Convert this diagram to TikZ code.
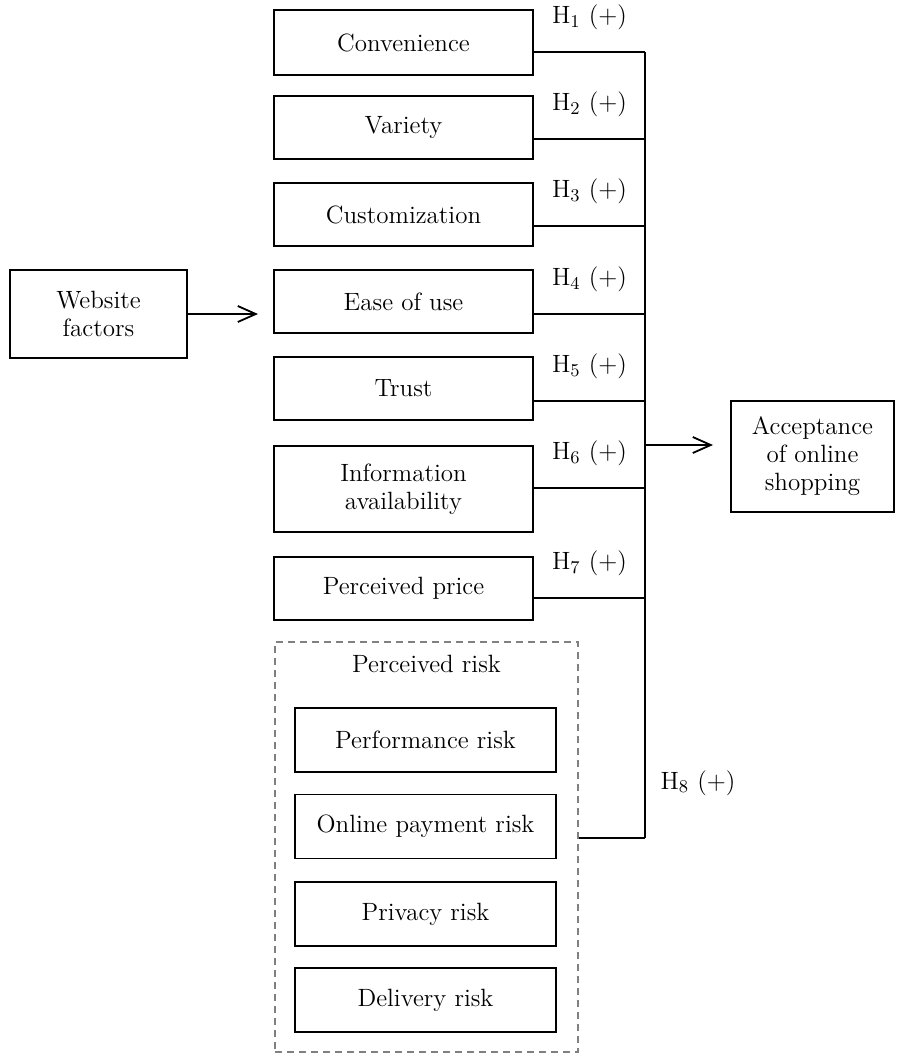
\documentclass[tikz,border=0pt]{standalone}
\usepackage{amsmath}
\usepackage{tikz}
\usetikzlibrary{arrows.meta}
\newdimen\unitsize
\setlength{\unitsize}{0.5pt}

\begin{document}
\begin{tikzpicture}[x=\unitsize,y=-\unitsize,font=\fontsize{12.5}{14}\selectfont]
\tikzset{box/.style={draw, line width=0.9pt, minimum width=129.5pt, minimum height=31.5pt, align=center, inner sep=2pt}}%
\tikzset{riskbox/.style={box, minimum width=130.5pt, minimum height=32pt}}%
\tikzset{edge/.style={line width=0.9pt}}%
\tikzset{hyp/.style={midway, above=10.5pt, inner sep=0pt}}%
\tikzset{>={Straight Barb[length=9pt,width=8pt]}}%
\useasboundingbox (0,0) rectangle (896,1055);
% website factors
\node[box, minimum width=88.5pt, minimum height=44pt] (web) at (98.5,314) {Website\\factors};
% factor boxes
\node[box, minimum height=32.5pt] (conv) at (403.5,42.5) {Convenience};
\node[box] (var) at (403.5,127.5) {Variety};
\node[box] (cust) at (403.5,214.5) {Customization};
\node[box] (ease) at (403.5,301.5) {Ease of use};
\node[box] (trust) at (403.5,388.5) {Trust};
\node[box, minimum height=43pt] (info) at (403.5,489) {Information\\availability};
\node[box] (price) at (403.5,588.5) {Perceived price};
% perceived risk group
\node[draw=gray, line width=0.9pt, dash pattern=on 3.5pt off 2.5pt, minimum width=151.5pt, minimum height=205pt] (risk) at (426.5,847) {};
\node (risktitle) at (426.5,664) {Perceived risk};
\node[riskbox] (perf) at (425.5,740) {Performance risk};
\node[riskbox] (pay) at (425.5,826.5) {Online payment risk};
\node[riskbox] (priv) at (425.5,914) {Privacy risk};
\node[riskbox] (deliv) at (425.5,1000) {Delivery risk};
% outcome
\node[box, minimum width=81.5pt, minimum height=55.5pt] (accept) at (812.5,456.5) {Acceptance\\of online\\shopping};
% connectors
\coordinate (bustop) at (645,52);
\coordinate (busbot) at (645,838);
\coordinate (easein) at (258,314);
\coordinate (accin) at (713,445);
\draw[edge] (bustop) -- (busbot);
\foreach \n/\y/\h in {conv/52/1, var/139/2, cust/226/3, ease/314/4, trust/401/5, info/488/6, price/598/7}
  \draw[edge] (\n.east |- 0,\y) -- (bustop |- 0,\y) node[hyp] {H$_{\h}$ (+)};
\draw[edge] (risk.east |- busbot) -- (busbot);
\node (h8) at (698,783) {H$_8$ (+)};
\draw[edge,->] (web.east) -- (easein);
\draw[edge,->] (bustop |- accin) -- (accin);
\end{tikzpicture}
\end{document}
